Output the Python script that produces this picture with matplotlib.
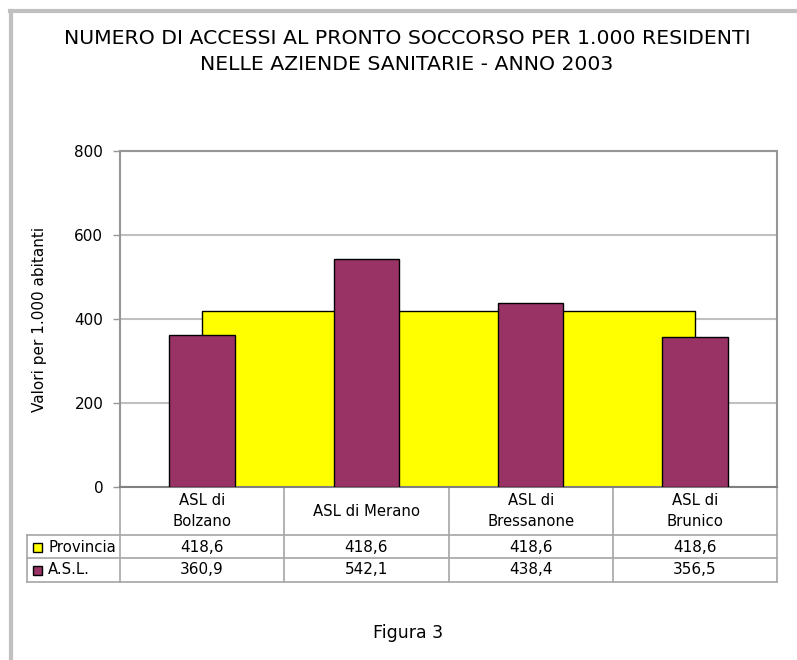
import matplotlib
matplotlib.use("Agg")
from matplotlib import pyplot as plt
from matplotlib import transforms
from matplotlib.patches import Rectangle

# data
categories = ["ASL di\nBolzano", "ASL di Merano", "ASL di\nBressanone", "ASL di\nBrunico"]
provincia = [418.6, 418.6, 418.6, 418.6]
asl = [360.9, 542.1, 438.4, 356.5]
series_names = ["Provincia", "A.S.L."]
yticks = [0, 200, 400, 600, 800]

yellow = "#FFFF00"
plum = "#993366"
grid_col = "#c0c0c0"
frame_col = "#969696"
table_col = "#a6a6a6"

plt.rcParams['font.family'] = ['DejaVu Sans']

W, H = 797, 660
fig = plt.figure(figsize=(W / 100, H / 100), dpi=100)

def fx(px):
    return px / W

def fy(py):
    return 1 - py / H

# outer border (top and left only)
fig.add_artist(plt.Line2D([fx(11), fx(11)], [fy(11), 0], color="#c0c0c0", lw=3, transform=fig.transFigure))
fig.add_artist(plt.Line2D([fx(10), 1], [fy(11), fy(11)], color="#c0c0c0", lw=3, transform=fig.transFigure))

fig.text(fx(407), fy(38), "NUMERO DI ACCESSI AL PRONTO SOCCORSO PER 1.000 RESIDENTI",
         ha="center", va="center", fontsize=14.7)
fig.text(fx(407), fy(65), "NELLE AZIENDE SANITARIE - ANNO 2003",
         ha="center", va="center", fontsize=14.7)

ax = fig.add_axes([fx(120), fy(487), fx(777) - fx(120), (487 - 151) / H])
x = list(range(len(categories)))

# provincia as an area from first to last category centre
ax.fill_between(x, 0, provincia, facecolor=yellow, edgecolor="none", zorder=2)
ax.plot([x[0]] + x + [x[-1]], [0] + provincia + [0], color="black", lw=1, zorder=2)
ax.bar(x, asl, width=0.4, color=plum, edgecolor="black", linewidth=1, zorder=3)

ax.set_xlim(-0.5, len(categories) - 0.5)
ax.set_ylim(0, 800)
ax.set_yticks(yticks)
ax.set_yticklabels([str(v) for v in yticks], fontsize=11)
ax.set_xticks([])
ax.yaxis.grid(True, color=grid_col, lw=1.5, zorder=0)
ax.tick_params(axis="y", length=5, width=1, color=frame_col, pad=7)
for s in ax.spines.values():
    s.set_color(frame_col)
    s.set_linewidth(1.5)
ax.spines["bottom"].set_color("#808080")
ax.set_ylabel("Valori per 1.000 abitanti", fontsize=11, labelpad=20)

# data table below the axes
px_per_ax = 1.0 / (487 - 151)
def ay(py):
    return (487 - py) * px_per_ax

tr = transforms.blended_transform_factory(ax.transData, ax.transAxes)
row_lines = [535, 558, 582]
leg_left = 27
for py in row_lines:
    fig.add_artist(plt.Line2D([fx(leg_left), fx(777)], [fy(py), fy(py)], color=table_col, lw=1.2,
                              transform=fig.transFigure))
fig.add_artist(plt.Line2D([fx(leg_left), fx(leg_left)], [fy(535), fy(582)], color=table_col, lw=1.2,
                          transform=fig.transFigure))
for i in range(len(categories) + 1):
    ax.add_line(plt.Line2D([i - 0.5, i - 0.5], [0, ay(582)], color=table_col, lw=1.2,
                           transform=tr, clip_on=False))

for i, c in enumerate(categories):
    ax.text(i, ay(511), c, transform=tr, ha="center", va="center", fontsize=10.7,
            linespacing=1.45)
    ax.text(i, ay(547), f"{provincia[i]:.1f}".replace(".", ","), transform=tr,
            ha="center", va="center", fontsize=11)
    ax.text(i, ay(570), f"{asl[i]:.1f}".replace(".", ","), transform=tr,
            ha="center", va="center", fontsize=11)

for name, col, py in zip(series_names, [yellow, plum], [547, 570]):
    fig.add_artist(Rectangle((fx(33), fy(py + 4.5)), fx(9), 9 / H, facecolor=col,
                             edgecolor="black", lw=1, transform=fig.transFigure))
    fig.text(fx(48), fy(py), name, ha="left", va="center", fontsize=10.7)

fig.text(fx(408), fy(633), "Figura 3", ha="center", va="center", fontsize=12.5)

fig.savefig("out.png", dpi=100)
